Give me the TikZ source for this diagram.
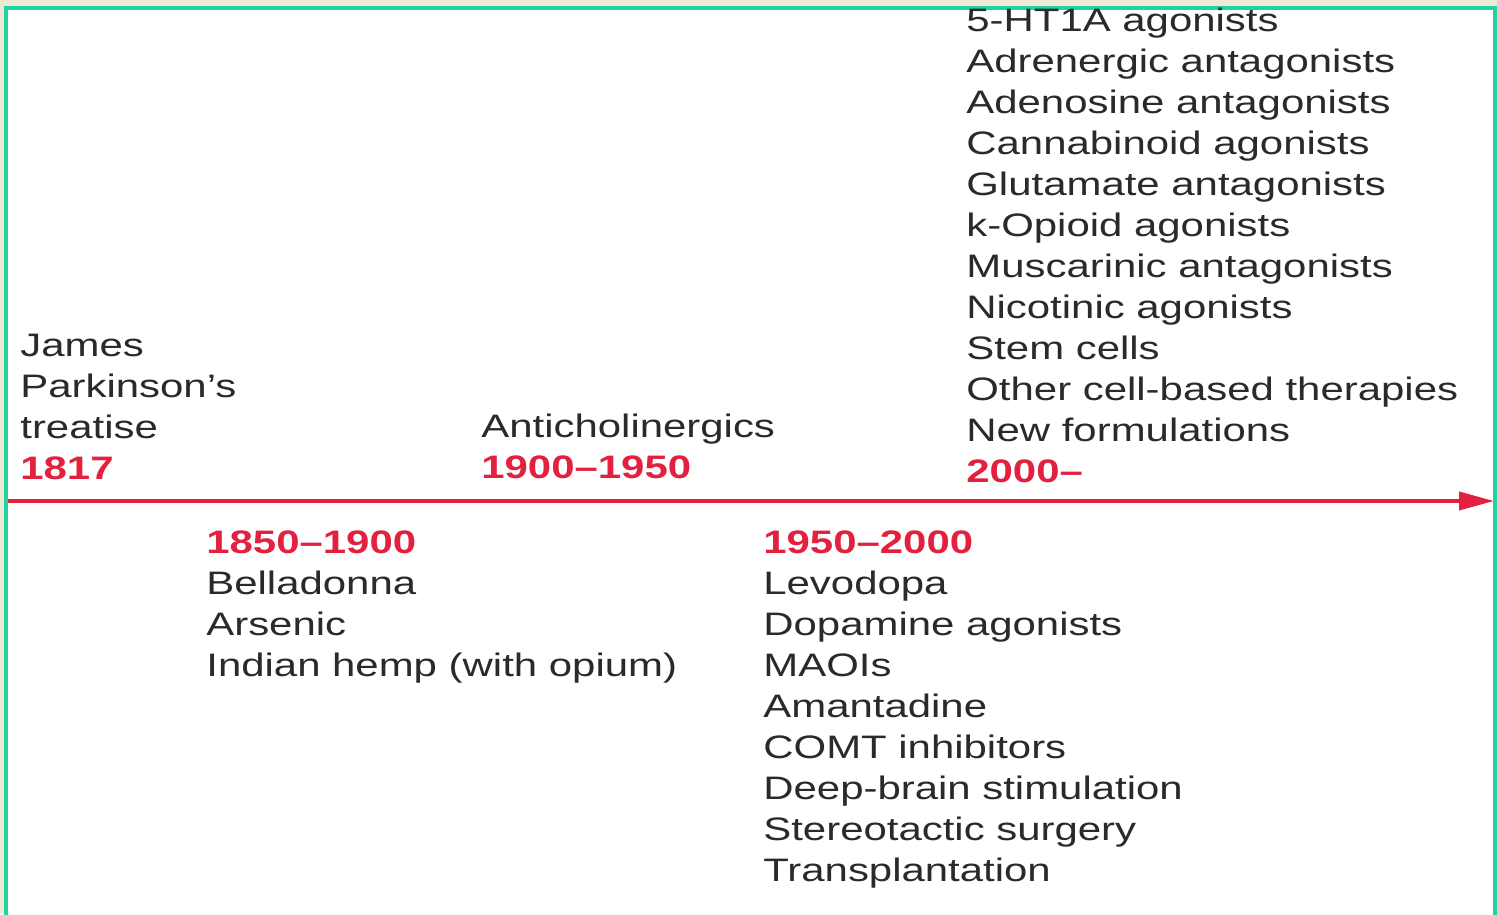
\documentclass[tikz,border=0pt]{standalone}
\usepackage{fontspec}
\setmainfont{Liberation Sans}[FakeStretch=1.29]
\usetikzlibrary{arrows.meta}
\definecolor{TimeRed}{HTML}{E3213F}
\definecolor{InkGray}{HTML}{2A2A2A}
\definecolor{FrameGreen}{HTML}{1FD3A2}
\definecolor{PaperBeige}{HTML}{EEE8D4}
\tikzset{
  entry/.style={anchor=base west,align=left,inner sep=0pt,text=InkGray,
                font=\fontsize{18.5}{23.3}\selectfont},
}
\newcommand{\era}[1]{\textcolor{TimeRed}{\bfseries #1}}

\begin{document}
\begin{tikzpicture}[x=0.02cm,y=0.02cm]
  \useasboundingbox (0,0) rectangle (1497,914);
  \fill[PaperBeige] (0,0) rectangle (1497,914);
  \fill[white] (6,0) rectangle (1495,906);
  \draw[FrameGreen,line width=2pt] (6,-4) -- (6,906) -- (1495,906) -- (1495,-4);
  % time axis
  \coordinate (start) at (8,413);
  \coordinate (end) at (1494,413);
  \draw[TimeRed,line width=2.2pt,-{Triangle[length=0.7cm,width=0.36cm]}] (start) -- (end);
  % above the axis (anchored at the last line)
  \node[entry] (treatise) at (20,435) {James\\Parkinson's\\treatise\\\era{1817}};
  \node[entry] (anticho) at (481,436) {Anticholinergics\\\era{1900--1950}};
  \node[entry] (recent) at (966,432) {5-HT1A agonists\\Adrenergic antagonists\\Adenosine antagonists\\
    Cannabinoid agonists\\Glutamate antagonists\\k-Opioid agonists\\Muscarinic antagonists\\
    Nicotinic agonists\\Stem cells\\Other cell-based therapies\\New formulations\\\era{2000--}};
  % below the axis
  \node[entry] (herbal) at (206,238) {\era{1850--1900}\\Belladonna\\Arsenic\\Indian hemp (with opium)};
  \node[entry] (modern) at (763,33) {\era{1950--2000}\\Levodopa\\Dopamine agonists\\MAOIs\\Amantadine\\
    COMT inhibitors\\Deep-brain stimulation\\Stereotactic surgery\\Transplantation};
\end{tikzpicture}
\end{document}
